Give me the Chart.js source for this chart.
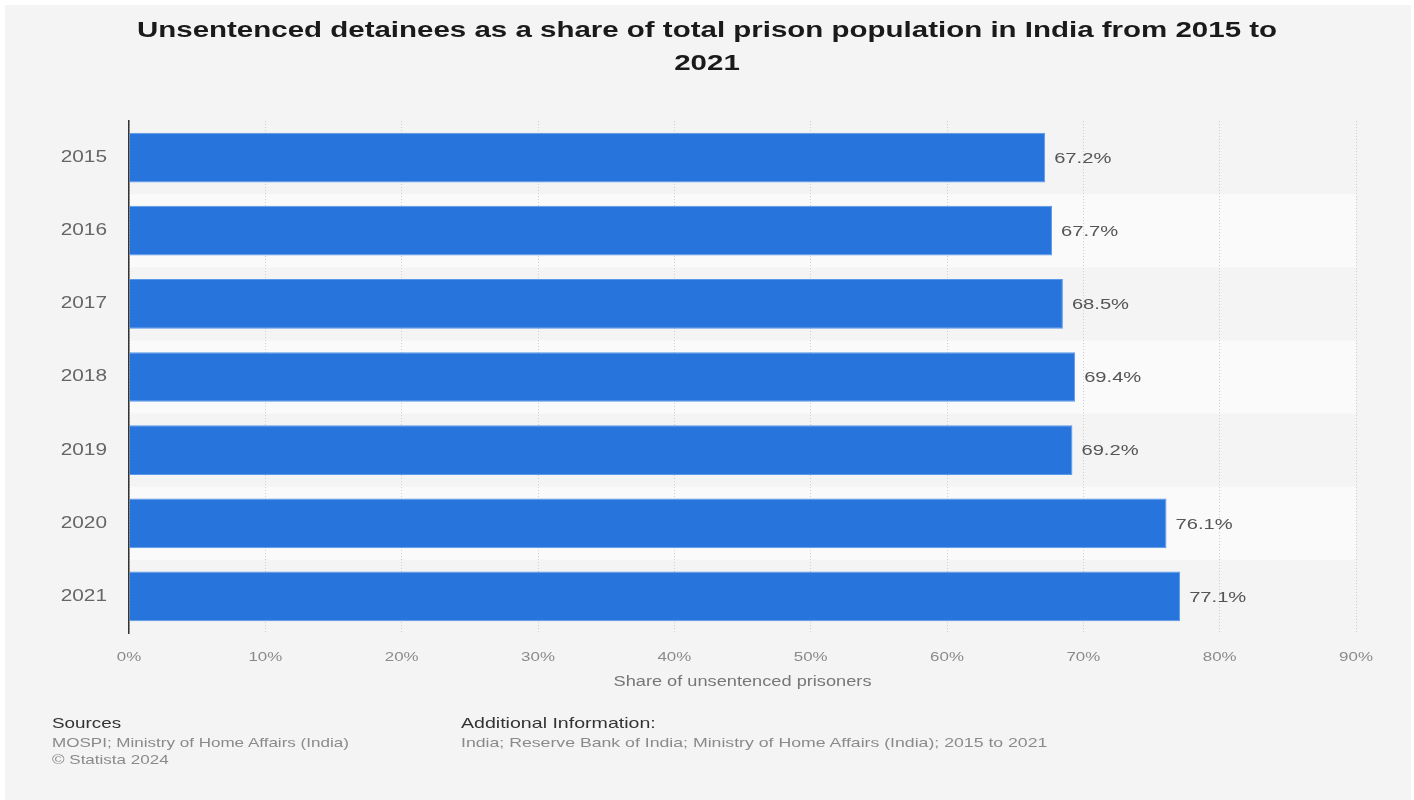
<!DOCTYPE html>
<html>
<head>
<meta charset="utf-8">
<script src="https://cdn.jsdelivr.net/npm/chart.js@4"></script>
<style>
  html, body { margin: 0; padding: 0; background: #ffffff; width: 1414px; height: 800px; overflow: hidden; }
  #panel { position: absolute; left: 5px; top: 5px; width: 1406px; height: 795px; background: #f4f4f4; }
  #wrap { position: absolute; left: 0; top: 0; width: 1414px; height: 800px; }
  .t { position: absolute; font-family: "Liberation Sans", Arial, sans-serif; white-space: nowrap; }
  #title { left: 0; width: 1414px; top: 13px; text-align: center; font-weight: bold; font-size: 22px; line-height: 33px; color: #1a1a1a; transform: scaleX(1.34); transform-origin: 707px 0; }
  .h { font-size: 14.5px; color: #333; transform: scaleX(1.3); transform-origin: 0 0; }
  .s { font-size: 13px; color: #8a8a8a; line-height: 17px; transform: scaleX(1.31); transform-origin: 0 0; }
</style>
</head>
<body>
<div id="panel"></div>
<div id="wrap"><canvas id="c" width="1414" height="800"></canvas></div>
<div id="title" class="t">Unsentenced detainees as a share of total prison population in India from 2015 to<br>2021</div>
<div class="t h" style="left:52px; top:715px;">Sources</div>
<div class="t s" style="left:52px; top:734px;">MOSPI; Ministry of Home Affairs (India)<br>© Statista 2024</div>
<div class="t h" style="left:461px; top:715px; transform: scaleX(1.35);">Additional Information:</div>
<div class="t s" style="left:461px; top:734px; transform: scaleX(1.36);">India; Reserve Bank of India; Ministry of Home Affairs (India); 2015 to 2021</div>
<script>
const years = ["2015", "2016", "2017", "2018", "2019", "2020", "2021"];
const shares = [67.2, 67.7, 68.5, 69.4, 69.2, 76.1, 77.1];
const xTicks = [0, 10, 20, 30, 40, 50, 60, 70, 80, 90];
const axisTitle = "Share of unsentenced prisoners";

const FONT = '"Liberation Sans", Arial, sans-serif';
const TEXT_STRETCH = 1.3;

const canvas = document.getElementById('c');
const context = canvas.getContext('2d');
const origFillText = context.fillText.bind(context);
context.fillText = function (text, x, y, maxWidth) {
  this.save();
  this.translate(x, y);
  this.scale(TEXT_STRETCH, 1);
  origFillText(text, 0, 0);
  this.restore();
};

const stripesUnder = {
  id: 'stripesUnder',
  beforeDraw(chart) {
    const { ctx, chartArea, scales } = chart;
    if (!chartArea) return;
    const y = scales.y;
    const n = years.length;
    const band = (chartArea.bottom - chartArea.top) / n;
    ctx.save();
    ctx.fillStyle = '#fafafa';
    for (let i = 1; i < n; i += 2) {
      const cy = y.getPixelForValue(i);
      ctx.fillRect(chartArea.left, cy - band / 2, chartArea.right - chartArea.left, band);
    }
    ctx.restore();
  }
};

const valueLabels = {
  id: 'valueLabels',
  afterDatasetsDraw(chart) {
    const { ctx } = chart;
    const meta = chart.getDatasetMeta(0);
    ctx.save();
    ctx.font = '15.5px ' + FONT;
    ctx.fillStyle = '#555';
    ctx.textAlign = 'left';
    ctx.textBaseline = 'middle';
    meta.data.forEach((bar, i) => {
      ctx.fillText(shares[i].toFixed(1) + '%', bar.x + 9, bar.y + 1);
    });
    ctx.restore();
  }
};

new Chart(canvas, {
  type: 'bar',
  data: {
    labels: years,
    datasets: [{
      data: shares,
      backgroundColor: '#2775dc',
      borderColor: '#5a98e8',
      borderWidth: 1,
      barPercentage: 0.68,
      categoryPercentage: 1.0
    }]
  },
  plugins: [stripesUnder, valueLabels],
  options: {
    indexAxis: 'y',
    responsive: false,
    animation: false,
    devicePixelRatio: 1,
    layout: { padding: { left: 0, right: 58, top: 121, bottom: 97 } },
    plugins: {
      legend: { display: false },
      title: { display: false },
      tooltip: { enabled: false }
    },
    scales: {
      x: {
        min: 0,
        max: 90,
        afterBuildTicks(scale) { scale.ticks = xTicks.map(v => ({ value: v })); },
        afterFit(scale) { scale.height = 70; },
        grid: {
          color: '#cfcfcf',
          lineWidth: 1,
          drawTicks: false,
          tickLength: 0
        },
        border: { display: false, dash: [1, 2] },
        ticks: {
          padding: 17,
          color: '#8a8a8a',
          font: { family: FONT, size: 13 },
          callback: (v) => v + '%'
        },
        title: {
          display: true,
          text: axisTitle,
          color: '#777',
          font: { family: FONT, size: 14 },
          padding: { top: 4, bottom: 12 }
        }
      },
      y: {
        afterFit(scale) { scale.width = 129; },
        grid: { display: false, drawTicks: false },
        border: { display: true, color: '#333', width: 1.5 },
        ticks: {
          padding: 22,
          color: '#666',
          font: { family: FONT, size: 16 }
        }
      }
    }
  }
});
</script>
</body>
</html>
